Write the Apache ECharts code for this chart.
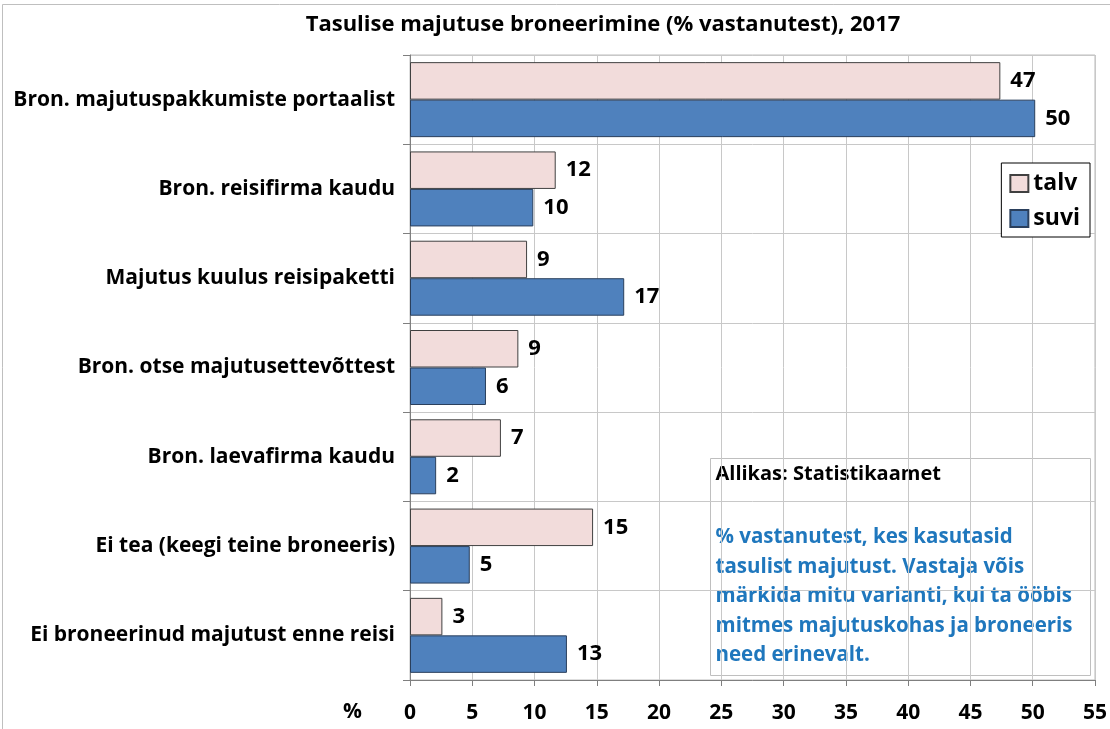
<!DOCTYPE html>
<html>
<head>
<meta charset="utf-8">
<script src="https://cdn.jsdelivr.net/npm/echarts@6/dist/echarts.min.js"></script>
<style>
  html, body { margin: 0; padding: 0; background: #fff; }
  #chart { width: 1110px; height: 729px; }
</style>
</head>
<body>
<div id="chart"></div>
<script>
// andmed (loetud jooniselt)
const categories = [
  'Bron. majutuspakkumiste portaalist',
  'Bron. reisifirma kaudu',
  'Majutus kuulus reisipaketti',
  'Bron. otse majutusettevõttest',
  'Bron. laevafirma kaudu',
  'Ei tea (keegi teine broneeris)',
  'Ei broneerinud majutust enne reisi'
];
const talv = [47.4, 11.7, 9.4, 8.7, 7.3, 14.7, 2.6];
const suvi = [50.2, 9.9, 17.2, 6.1, 2.1, 4.8, 12.6];
const xTicks = [0, 5, 10, 15, 20, 25, 30, 35, 40, 45, 50, 55];

const noteLines = [
  '% vastanutest, kes kasutasid',
  'tasulist majutust. Vastaja võis',
  'märkida mitu varianti, kui ta ööbis',
  'mitmes majutuskohas ja broneeris',
  'need erinevalt.'
];

const FONT = '"Open Sans", "Noto Sans", sans-serif';
const chart = echarts.init(document.getElementById('chart'));

const valueLabel = {
  show: true,
  position: 'right',
  distance: 10,
  color: '#000',
  fontFamily: FONT,
  fontWeight: 'bold',
  fontSize: 22,
  formatter: p => Math.round(p.value)
};

chart.setOption({
  animation: false,
  backgroundColor: '#fff',
  title: {
    text: 'Tasulise majutuse broneerimine (% vastanutest), 2017',
    left: 598,
    textAlign: 'center',
    top: 9,
    textStyle: { fontFamily: FONT, fontWeight: 'bold', fontSize: 22, color: '#000' }
  },
  legend: {
    orient: 'vertical',
    right: 20,
    top: 163,
    backgroundColor: '#fff',
    borderColor: '#000',
    borderWidth: 1,
    padding: [9, 10, 7, 8],
    itemGap: 12,
    itemWidth: 18,
    itemHeight: 17,
    icon: 'rect',
    textStyle: { fontFamily: FONT, fontWeight: 'bold', fontSize: 23, color: '#000' },
    data: ['talv', 'suvi']
  },
  grid: {
    left: 410, right: 11, top: 55, bottom: 49,
    show: true, borderColor: '#bdbdbd', borderWidth: 1
  },
  xAxis: {
    type: 'value',
    min: xTicks[0],
    max: xTicks[xTicks.length - 1],
    interval: 5,
    axisLine: { show: true, lineStyle: { color: '#7f7f7f' } },
    axisTick: { show: true, length: 6, lineStyle: { color: '#7f7f7f' } },
    splitLine: { show: true, lineStyle: { color: '#c8c8c8' } },
    axisLabel: {
      margin: 23, color: '#000',
      fontFamily: FONT, fontWeight: 'bold', fontSize: 21
    }
  },
  yAxis: {
    type: 'category',
    inverse: true,
    data: categories,
    axisLine: { show: true, lineStyle: { color: '#7f7f7f' } },
    axisTick: { show: true, length: 7, lineStyle: { color: '#7f7f7f' } },
    splitLine: { show: true, lineStyle: { color: '#c8c8c8' } },
    axisLabel: {
      margin: 15, color: '#000',
      fontFamily: FONT, fontWeight: 'bold', fontSize: 21
    }
  },
  series: [
    {
      name: 'talv', type: 'bar', data: talv,
      barGap: '0%', barCategoryGap: '16%',
      itemStyle: { color: '#f2dcdb', borderColor: '#404040', borderWidth: 1 },
      label: valueLabel
    },
    {
      name: 'suvi', type: 'bar', data: suvi,
      itemStyle: { color: '#4f81bd', borderColor: '#2a3f5c', borderWidth: 1 },
      label: valueLabel
    }
  ],
  graphic: [
    {
      type: 'rect', silent: true, z: -1,
      shape: { x: 2.5, y: 4.5, width: 1120, height: 740 },
      style: { fill: 'none', stroke: '#bfbfbf', lineWidth: 1 }
    },
    {
      type: 'text', left: 343, top: 702,
      style: { text: '%', fontFamily: FONT, fontWeight: 'bold', fontSize: 21, fill: '#000' }
    },
    {
      type: 'group', left: 710, top: 458, z: 100,
      children: [
        {
          type: 'rect',
          shape: { x: 0, y: 0, width: 380, height: 217 },
          style: { fill: '#fff', stroke: '#bfbfbf', lineWidth: 1 }
        },
        {
          type: 'text', x: 5, y: 6,
          style: { text: 'Allikas: Statistikaamet', fontFamily: FONT, fontWeight: 'bold', fontSize: 20, fill: '#000' }
        },
        {
          type: 'text', x: 5, y: 64,
          style: {
            text: noteLines.join('\n'), lineHeight: 29.5,
            fontFamily: FONT, fontWeight: 'bold', fontSize: 20.5, fill: '#1f77bd'
          }
        }
      ]
    }
  ]
});
</script>
</body>
</html>
